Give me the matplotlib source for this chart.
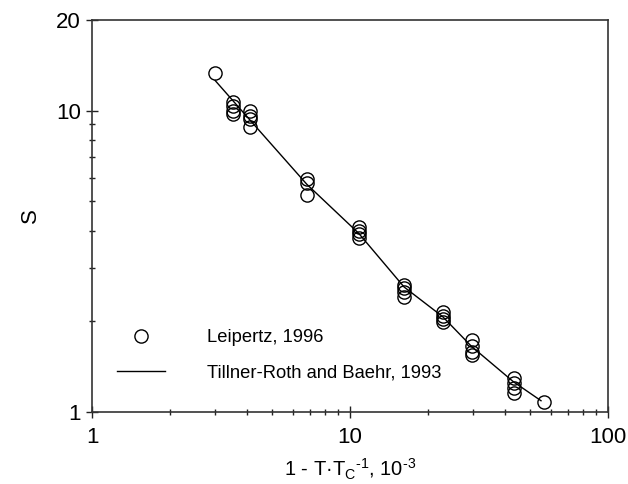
import numpy as np
import matplotlib
matplotlib.use("Agg")
import matplotlib.pyplot as plt
from matplotlib.ticker import LogLocator, FixedLocator, FixedFormatter, NullFormatter

plt.rcParams['font.family'] = ['Liberation Sans', 'DejaVu Sans']
plt.rcParams['mathtext.fontset'] = 'custom'
plt.rcParams['mathtext.rm'] = 'Liberation Sans'
plt.rcParams['mathtext.it'] = 'Liberation Sans:italic'

# Leipertz (1996): reduced temperature distance (10^-3) and S
tau_exp = [3.0,
           3.53, 3.53, 3.53, 3.53,
           4.1, 4.1, 4.1, 4.1,
           6.8, 6.8, 6.8,
           10.8, 10.8, 10.8, 10.8,
           16.2, 16.2, 16.2, 16.2,
           22.9, 22.9, 22.9, 22.9,
           29.6, 29.6, 29.6, 29.6,
           43.2, 43.2, 43.2, 43.2,
           56.5]
s_exp = [13.3,
         10.65, 10.4, 10.0, 9.75,
         10.0, 9.62, 9.39, 8.81,
         5.94, 5.74, 5.27,
         4.11, 4.0, 3.91, 3.78,
         2.63, 2.57, 2.5, 2.41,
         2.15, 2.09, 2.04, 1.99,
         1.73, 1.65, 1.58, 1.55,
         1.30, 1.25, 1.20, 1.16,
         1.08]

# Tillner-Roth and Baehr (1993) correlation
tau_eos = [3.0, 4.1, 6.8, 10.8, 16.2, 22.9, 29.6, 43.0, 55.0]
s_eos = [12.6, 9.3, 5.7, 3.92, 2.6, 2.07, 1.65, 1.26, 1.09]

fig = plt.figure(figsize=(6.28, 4.84), dpi=100)
ax = fig.add_axes([92 / 628, 1 - 412 / 484, (608 - 92) / 628, (412 - 20) / 484])

ax.plot(tau_exp, s_exp, 'o', ms=9.5, mfc='none', mec='black', mew=1.0,
        label='Leipertz, 1996')
ax.plot(tau_eos, s_eos, '-', color='black', lw=1.0,
        label='Tillner-Roth and Baehr, 1993')

ax.set_xscale('log')
ax.set_yscale('log')
ax.set_xlim(1, 100)
ax.set_ylim(1, 20)

ax.xaxis.set_major_locator(FixedLocator([1, 10, 100]))
ax.xaxis.set_major_formatter(FixedFormatter(['1', '10', '100']))
ax.xaxis.set_minor_locator(LogLocator(base=10, subs=np.arange(2, 10)))
ax.xaxis.set_minor_formatter(NullFormatter())
ax.yaxis.set_major_locator(FixedLocator([1, 10, 20]))
ax.yaxis.set_major_formatter(FixedFormatter(['1', '10', '20']))
ax.yaxis.set_minor_locator(FixedLocator([2, 3, 4, 5, 6, 7, 8, 9]))
ax.yaxis.set_minor_formatter(NullFormatter())

ax.tick_params(which='major', direction='inout', length=8, width=1.0,
               labelsize=16, pad=4, colors='#222222', labelcolor='black')
ax.tick_params(which='minor', direction='inout', length=4.5, width=1.0,
               colors='#222222')
ax.tick_params(axis='x', which='major', pad=7)
for sp in ax.spines.values():
    sp.set_linewidth(1.2)
    sp.set_color('#333333')

ax.set_xlabel('1 - T\u00b7T$_\\mathrm{C}$$^{\\text{-}\\mathrm{1}}$, 10$^{\\text{-}\\mathrm{3}}$',
              fontsize=14.5, labelpad=6)
ax.set_ylabel('S', fontsize=16, labelpad=11)

ax.legend(loc='center left', bbox_to_anchor=(0.049, 0.145), frameon=False,
          fontsize=13.2, handlelength=2.6, handletextpad=2.3, labelspacing=1.0,
          borderpad=0, borderaxespad=0)

fig.savefig('out.png', dpi=100)
